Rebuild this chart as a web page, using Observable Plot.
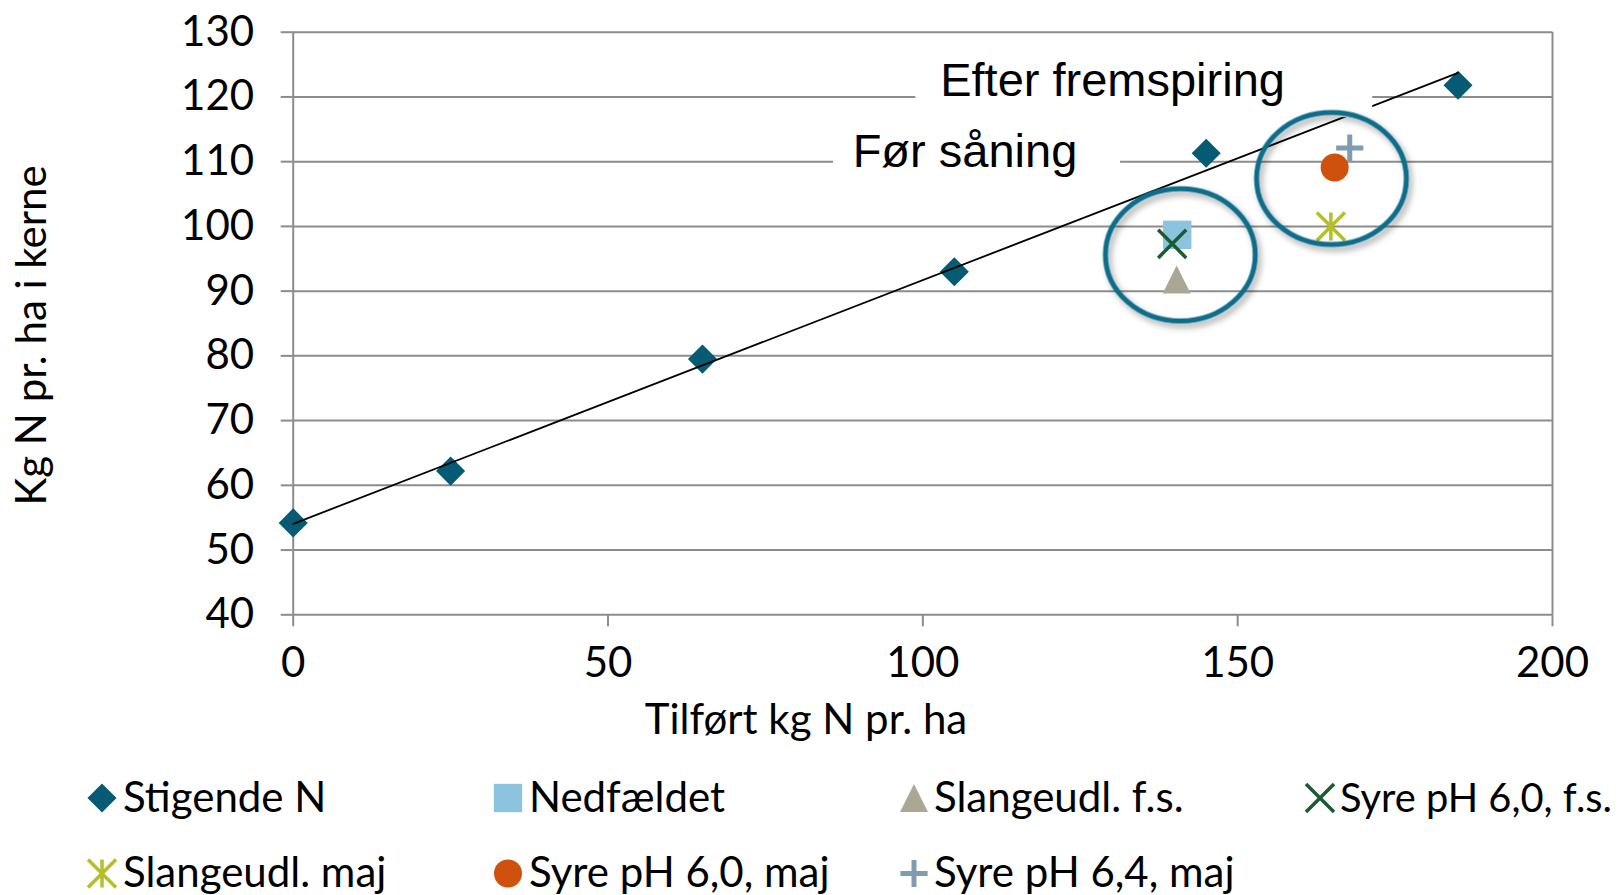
<!DOCTYPE html>
<html><head><meta charset="utf-8">
<script src="https://cdn.jsdelivr.net/npm/d3@7"></script>
<script src="https://cdn.jsdelivr.net/npm/@observablehq/plot@0.6"></script>
<style>
html,body{margin:0;padding:0;background:#fff;}
#wrap{position:relative;width:1622px;height:895px;overflow:hidden;font-family:Lato,sans-serif;background:#fff;}
#chart{position:absolute;left:0;top:0;}
#legend{position:absolute;left:0;top:740px;}
</style></head>
<body><div id="wrap"><div id="chart"></div><div id="legend"></div></div>
<script>
// ---------- data ----------
const xTicks = [0, 50, 100, 150, 200];
const yTicks = [40, 50, 60, 70, 80, 90, 100, 110, 120, 130];

// Stigende N (increasing N rates)
const stigX = [0, 25, 65, 105, 145, 185];
const stigY = [54.2, 62.2, 79.5, 93.0, 111.3, 121.8];

// treatments
const treatNames = ["Nedfældet", "Slangeudl. f.s.", "Syre pH 6,0, f.s.", "Slangeudl. maj", "Syre pH 6,0, maj", "Syre pH 6,4, maj"];
const treatX = [140.4, 140.3, 139.6, 164.8, 165.4, 167.8];
const treatY = [98.7, 91.8, 97.3, 100.0, 109.1, 112.1];

// group circles (annotation)
const groupX = [140.9, 164.9];
const groupY = [95.6, 107.4];

// text annotations and their white boxes
const noteTexts = ["Efter fremspiring", "Før såning"];
const noteX = [102.75, 88.85];
const noteY = [120.2, 109.2];
const boxX1 = [98.9, 85.8];
const boxX2 = [171.45, 131.4];
const boxY1 = [116.8, 107.4];
const boxY2 = [126.9, 115.6];

const xLabel = "Tilført kg N pr. ha";
const yLabel = "Kg N pr. ha i kerne";
const legendNames = ["Stigende N", "Nedfældet", "Slangeudl. f.s.", "Syre pH 6,0, f.s.", "Slangeudl. maj", "Syre pH 6,0, maj", "Syre pH 6,4, maj"];

// ---------- styles ----------
const symAsterisk = {draw(ctx, size) {const r = Math.sqrt(size / Math.PI); ctx.moveTo(0, -r); ctx.lineTo(0, r); ctx.moveTo(-r, -r); ctx.lineTo(r, r); ctx.moveTo(-r, r); ctx.lineTo(r, -r);}};
const symTriangle = {draw(ctx, size) {const r = Math.sqrt(size / Math.PI); ctx.moveTo(0, -r); ctx.lineTo(r, r); ctx.lineTo(-r, r); ctx.closePath();}};
const symEllipse = {draw(ctx, size) {
  const R = Math.sqrt(size / Math.PI), a = R * 1.07, b = R * 0.943, k = 0.5522847;
  ctx.moveTo(a, 0);
  ctx.bezierCurveTo(a, k * b, k * a, b, 0, b);
  ctx.bezierCurveTo(-k * a, b, -a, k * b, -a, 0);
  ctx.bezierCurveTo(-a, -k * b, -k * a, -b, 0, -b);
  ctx.bezierCurveTo(k * a, -b, a, -k * b, a, 0);
  ctx.closePath();
}};
const styles = [
  {symbol: d3.symbolDiamond2, r: 13.1, fill: "#055a74", stroke: "none", sw: 0},
  {symbol: d3.symbolSquare, r: 16, fill: "#8cc4df", stroke: "none", sw: 0},
  {symbol: symTriangle, r: 14, fill: "#aaa894", stroke: "none", sw: 0},
  {symbol: d3.symbolTimes, r: 12.8, fill: "none", stroke: "#1a5b32", sw: 3.5},
  {symbol: symAsterisk, r: 14, fill: "none", stroke: "#b4bf2a", sw: 3.5},
  {symbol: d3.symbolCircle, r: 14, fill: "#d0510e", stroke: "none", sw: 0},
  {symbol: d3.symbolPlus, r: 8.8, fill: "none", stroke: "#7f9cb1", sw: 5}
];
const gridColor = "#8c8c8c";
const haloColor = "#0f6d8a";

// ---------- build tables ----------
const stigende = stigX.map((x, i) => ({x, y: stigY[i]}));
const treat = treatNames.map((name, i) => ({name, x: treatX[i], y: treatY[i]}));
const groups = groupX.map((x, i) => ({x, y: groupY[i]}));
const notes = noteTexts.map((t, i) => ({t, x: noteX[i], y: noteY[i], x1: boxX1[i], x2: boxX2[i], y1: boxY1[i], y2: boxY2[i]}));

const W = 1622, H = 740;
const fLeft = 292.7, fRight = 1552, fTop = 31.7, fBottom = 614.3;

const treatMarks = treat.map((d, i) => {
  const s = styles[i + 1];
  return Plot.dot([d], {x: "x", y: "y", r: s.r, symbol: s.symbol, fill: s.fill, stroke: s.stroke, strokeWidth: s.sw});
});

const chart = Plot.plot({
  width: W, height: H,
  marginLeft: fLeft, marginRight: W - fRight, marginTop: fTop, marginBottom: H - fBottom,
  x: {domain: [xTicks[0], xTicks[xTicks.length - 1]]},
  y: {domain: [yTicks[0], yTicks[yTicks.length - 1]]},
  style: {fontFamily: "Lato, sans-serif", fontSize: "42px", color: "#000", background: "#fff", overflow: "visible"},
  marks: [
    Plot.gridY(yTicks, {stroke: gridColor, strokeOpacity: 1, strokeWidth: 2}),
    Plot.ruleX([xTicks[0], xTicks[xTicks.length - 1]], {stroke: gridColor, strokeWidth: 2}),
    Plot.axisY({ticks: yTicks, tickSize: 12, tickPadding: 27, stroke: gridColor, strokeWidth: 2, fill: "#000", label: null, fontSize: 42}),
    Plot.axisX({ticks: xTicks, tickSize: 12, tickPadding: 20, stroke: gridColor, strokeWidth: 2, fill: "#000", label: null, fontSize: 42}),
    Plot.dot(stigende, {x: "x", y: "y", r: styles[0].r, symbol: styles[0].symbol, fill: styles[0].fill, stroke: "none"}),
    ...treatMarks,
    Plot.linearRegressionY(stigende, {x: "x", y: "y", ci: 0, stroke: "#000", strokeWidth: 1.8}),
    Plot.rect(notes, {x1: "x1", x2: "x2", y1: "y1", y2: "y2", fill: "#fff"}),
    Plot.text(notes, {x: "x", y: "y", text: "t", textAnchor: "start", lineAnchor: "bottom", fontFamily: "Liberation Sans, Arial, sans-serif", fontSize: 47, fill: "#000"}),
    Plot.dot(groups, {x: "x", y: "y", r: 70, symbol: symEllipse, fill: "none", stroke: haloColor, strokeWidth: 5}),
    Plot.text([xLabel], {text: d => d, frameAnchor: "bottom", textAnchor: "middle", lineAnchor: "bottom", dx: 805.5 - (fLeft + fRight) / 2, dy: 733 - fBottom, fontSize: 42, fill: "#000"}),
    Plot.text([yLabel], {text: d => d, frameAnchor: "left", rotate: -90, textAnchor: "middle", lineAnchor: "bottom", dx: 45 - fLeft, dy: 335 - (fTop + fBottom) / 2, fontSize: 42, fill: "#000"})
  ]
});

const svg = d3.select(chart);
const defs = svg.insert("defs", ":first-child");
defs.append("filter").attr("id", "halo-shadow").attr("x", "-20%").attr("y", "-20%").attr("width", "140%").attr("height", "140%")
  .append("feDropShadow").attr("dx", 3).attr("dy", 4).attr("stdDeviation", 3).attr("flood-color", "#000").attr("flood-opacity", 0.35);
svg.selectAll(`g[stroke="${haloColor}"]`).attr("filter", "url(#halo-shadow)");
document.getElementById("chart").appendChild(chart);

// ---------- legend (below the chart) ----------
const colMarker = [102, 508, 914, 1320];
const colText = [123, 529, 934, 1340];
const colMaxW = [380, 380, 380, 272];
const rowMarker = [58, 133.5];
const rowBase = [71.7, 146.7];
const lg = d3.select("#legend").append("svg").attr("width", W).attr("height", 155)
  .style("font-family", "Lato, sans-serif").style("font-size", "42px");
legendNames.forEach((name, i) => {
  const row = i < 4 ? 0 : 1, col = i < 4 ? i : i - 4;
  const s = styles[i];
  lg.append("path")
    .attr("d", d3.symbol().type(s.symbol).size(Math.PI * s.r * s.r)())
    .attr("transform", `translate(${colMarker[col]},${rowMarker[row]})`)
    .attr("fill", s.fill).attr("stroke", s.stroke).attr("stroke-width", s.sw);
  const t = lg.append("text").attr("x", colText[col]).attr("y", rowBase[row]).attr("fill", "#000").text(name);
  const len = t.node().getComputedTextLength();
  if (len > colMaxW[col]) t.style("font-size", (42 * colMaxW[col] / len).toFixed(2) + "px");
});
</script>
</body></html>
